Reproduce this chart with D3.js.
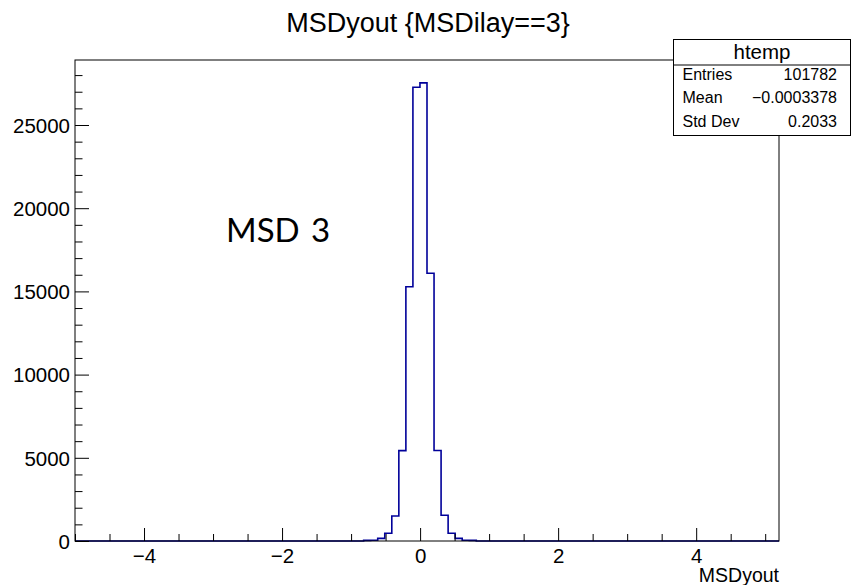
<!DOCTYPE html>
<html>
<head>
<meta charset="utf-8">
<script src="https://cdn.jsdelivr.net/npm/d3@7/dist/d3.min.js"></script>
<style>
  html, body { margin: 0; padding: 0; background: #fff; }
  svg { display: block; }
  text { font-family: "Liberation Sans", Arial, Helvetica, sans-serif; fill: #000; }
</style>
</head>
<body>
<svg id="chart" width="856" height="585"></svg>
<script>
// Histogram definition: 100 equal bins spanning the x range
const xRange = [-5, 5.2];
const nBins = 100;

// Bin contents (entries per bin), bin 0 starts at xRange[0]
const binCounts = [
  0, 0, 0, 0, 0, 0, 0, 0, 0, 0,
  0, 0, 0, 0, 0, 0, 0, 0, 0, 0,
  0, 0, 0, 0, 0, 0, 0, 0, 0, 0,
  0, 0, 0, 0, 0, 0, 0, 0, 0, 0,
  0, 40, 45, 160, 470, 1500, 5430, 15280, 27270, 27530,
  16090, 5440, 1550, 470, 160, 45, 40, 0, 0, 0,
  0, 0, 0, 0, 0, 0, 0, 0, 0, 0,
  0, 0, 0, 0, 0, 0, 0, 0, 0, 0,
  0, 0, 0, 0, 0, 0, 0, 0, 0, 0,
  0, 0, 0, 0, 0, 0, 0, 0, 0, 0
];

// Axis ticks and labels
const xMajorTicks = [-4, -2, 0, 2, 4];
const xMinorTicks = [-5, -4.5, -4, -3.5, -3, -2.5, -2, -1.5, -1, -0.5, 0, 0.5, 1, 1.5, 2, 2.5, 3, 3.5, 4, 4.5, 5];
const yMajorTicks = [0, 5000, 10000, 15000, 20000, 25000];
const yMinorTicks = [1000, 2000, 3000, 4000, 6000, 7000, 8000, 9000, 11000, 12000, 13000, 14000,
                     16000, 17000, 18000, 19000, 21000, 22000, 23000, 24000, 26000, 27000, 28000];

// Text content
const titleText = "MSDyout {MSDilay==3}";
const xAxisTitle = "MSDyout";
const annotation = "MSD 3";
const statsName = "htemp";
const statsLabels = ["Entries", "Mean", "Std Dev"];
const statsValues = ["101782", "\u22120.0003378", "0.2033"];

const svg = d3.select("#chart");
const frame = { left: 75, right: 779, top: 60, bottom: 541 };

const x = d3.scaleLinear().domain(xRange).range([frame.left, frame.right]);
const yMax = 1.05 * d3.max(binCounts);
const y = d3.scaleLinear().domain([0, yMax]).range([frame.bottom, frame.top]);

const binWidth = (xRange[1] - xRange[0]) / nBins;
const lineColor = "#000099";

// Step outline of the histogram
const stepPoints = [];
binCounts.forEach((c, i) => {
  const x0 = xRange[0] + i * binWidth;
  const x1 = x0 + binWidth;
  stepPoints.push([x(x0), y(c)]);
  stepPoints.push([x(x1), y(c)]);
});
svg.append("path")
  .attr("d", d3.line()(stepPoints))
  .attr("fill", "none")
  .attr("stroke", lineColor)
  .attr("stroke-width", 1.6)
  .attr("stroke-linejoin", "miter");

// Frame
svg.append("rect")
  .attr("x", frame.left).attr("y", frame.top)
  .attr("width", frame.right - frame.left)
  .attr("height", frame.bottom - frame.top)
  .attr("fill", "none").attr("stroke", "#000").attr("stroke-width", 1);

const labelFont = '"Liberation Sans", Arial, sans-serif';

// X axis: ticks pointing into the frame
const xAxisMajor = d3.axisBottom(x).tickValues(xMajorTicks).tickSizeInner(-13).tickSizeOuter(0)
  .tickFormat(d => (d < 0 ? "\u2212" + Math.abs(d) : String(d)));
const gx = svg.append("g").attr("transform", `translate(0,${frame.bottom})`).call(xAxisMajor);
gx.select(".domain").remove();
gx.selectAll("text").attr("dy", null).attr("y", 22)
  .style("font-size", "20.5px").style("font-family", labelFont);
gx.selectAll("line").attr("stroke", "#000");

const xAxisMinor = d3.axisBottom(x).tickValues(xMinorTicks.filter(v => !xMajorTicks.includes(v)))
  .tickSizeInner(-7).tickSizeOuter(0).tickFormat("");
const gxm = svg.append("g").attr("transform", `translate(0,${frame.bottom})`).call(xAxisMinor);
gxm.select(".domain").remove();
gxm.selectAll("line").attr("stroke", "#000");

// Y axis
const yAxisMajor = d3.axisLeft(y).tickValues(yMajorTicks).tickSizeInner(-14).tickSizeOuter(0)
  .tickFormat(d3.format("d"));
const gy = svg.append("g").attr("transform", `translate(${frame.left},0)`).call(yAxisMajor);
gy.select(".domain").remove();
gy.selectAll("text").attr("x", -5).attr("dy", "0.36em")
  .style("font-size", "20.5px").style("font-family", labelFont);
gy.selectAll("line").attr("stroke", "#000");

const yAxisMinor = d3.axisLeft(y).tickValues(yMinorTicks).tickSizeInner(-7.5).tickSizeOuter(0).tickFormat("");
const gym = svg.append("g").attr("transform", `translate(${frame.left},0)`).call(yAxisMinor);
gym.select(".domain").remove();
gym.selectAll("line").attr("stroke", "#000");

// Axis title
svg.append("text")
  .attr("x", frame.right).attr("y", 582)
  .attr("text-anchor", "end")
  .style("font-size", "19.5px")
  .text(xAxisTitle);

// Title
svg.append("text")
  .attr("x", 428).attr("y", 32)
  .attr("text-anchor", "middle")
  .style("font-size", "27px")
  .text(titleText);

// Annotation
svg.append("text")
  .attr("x", 226).attr("y", 242)
  .style("font-family", "Lato, 'Open Sans', sans-serif")
  .style("font-size", "33px")
  .style("word-spacing", "3px")
  .text(annotation);

// Statistics box
const box = { x: 673.5, y: 39.5, w: 177, h: 96, header: 25.5 };
const gs = svg.append("g");
gs.append("rect")
  .attr("x", box.x).attr("y", box.y).attr("width", box.w).attr("height", box.h)
  .attr("fill", "#fff").attr("stroke", "#000").attr("stroke-width", 1);
gs.append("line")
  .attr("x1", box.x).attr("x2", box.x + box.w)
  .attr("y1", box.y + box.header).attr("y2", box.y + box.header)
  .attr("stroke", "#000").attr("stroke-width", 1);
gs.append("text")
  .attr("x", box.x + box.w / 2).attr("y", 58.5)
  .attr("text-anchor", "middle")
  .style("font-size", "20.5px")
  .text(statsName);
const rowBase = [80, 103.3, 126.7];
statsLabels.forEach((lab, i) => {
  gs.append("text").attr("x", 682.5).attr("y", rowBase[i])
    .style("font-size", "16px").text(lab);
  gs.append("text").attr("x", 837).attr("y", rowBase[i])
    .attr("text-anchor", "end")
    .style("font-size", "16px").text(statsValues[i]);
});
</script>
</body>
</html>
